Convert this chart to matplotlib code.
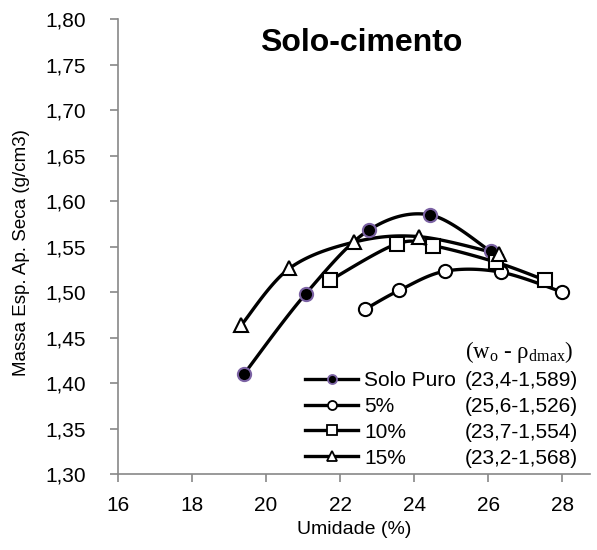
import matplotlib
matplotlib.use("Agg")
import matplotlib.pyplot as plt
import numpy as np
from matplotlib.lines import Line2D
from matplotlib.ticker import FuncFormatter

# valores: umidade (%) e massa específica seca (g/cm3)
puro_x = [19.41, 21.07, 22.77, 24.42, 26.06]
puro_y = [1.410, 1.498, 1.568, 1.585, 1.545]
c5_x = [22.67, 23.60, 24.83, 26.33, 28.00]
c5_y = [1.481, 1.502, 1.523, 1.522, 1.500]
c10_x = [21.73, 23.53, 24.51, 26.20, 27.54]
c10_y = [1.513, 1.553, 1.551, 1.533, 1.513]
c15_x = [19.34, 20.63, 22.38, 24.13, 26.28]
c15_y = [1.464, 1.526, 1.555, 1.561, 1.542]

labels = ["Solo Puro", "5%", "10%", "15%"]
optimum = ["(23,4-1,589)", "(25,6-1,526)", "(23,7-1,554)", "(23,2-1,568)"]
x_ticks = [16, 18, 20, 22, 24, 26, 28]
y_ticks = [1.30, 1.35, 1.40, 1.45, 1.50, 1.55, 1.60, 1.65, 1.70, 1.75, 1.80]

plt.rcParams["font.family"] = ["Liberation Sans", "DejaVu Sans"]
plt.rcParams["mathtext.fontset"] = "custom"
plt.rcParams["mathtext.rm"] = "Liberation Serif"
plt.rcParams["mathtext.it"] = "Liberation Serif:italic"

AXIS_GREY = "#888888"
PURPLE = "#7b62a3"


def smooth(ax, xs, ys, n=30):
    """Curva suavizada (estilo Excel) em coordenadas de tela."""
    pts = ax.transData.transform(np.column_stack([xs, ys]))
    p = np.vstack([pts[0], pts, pts[-1]])
    out = []
    t = np.linspace(0, 1, n)[:, None]
    for i in range(1, len(p) - 2):
        p0, p3 = p[i], p[i + 1]
        p1 = p0 + (p[i + 1] - p[i - 1]) / 6
        p2 = p3 - (p[i + 2] - p[i]) / 6
        seg = ((1 - t) ** 3) * p0 + 3 * ((1 - t) ** 2) * t * p1 + 3 * (1 - t) * t ** 2 * p2 + t ** 3 * p3
        out.append(seg)
    curve = ax.transData.inverted().transform(np.vstack(out))
    return curve[:, 0], curve[:, 1]


fig = plt.figure(figsize=(5.97, 5.5), dpi=100)
ax = fig.add_axes([0.1972, 0.1382, 0.7908, 0.8267])
ax.set_xlim(16, 28.74)
ax.set_ylim(1.30, 1.80)

series = [
    (puro_x, puro_y, dict(marker="o", mfc="black", mec=PURPLE)),
    (c5_x, c5_y, dict(marker="o", mfc="white", mec="black")),
    (c10_x, c10_y, dict(marker="s", mfc="white", mec="black")),
    (c15_x, c15_y, dict(marker="^", mfc="white", mec="black")),
]

handles = []
for xs, ys, style in series:
    sx, sy = smooth(ax, xs, ys)
    ax.plot(sx, sy, color="black", lw=2.4, zorder=2)
    ax.plot(xs, ys, ls="none", ms=9.5, mew=1.5, zorder=3, **style)
    handles.append(Line2D([], [], color="black", lw=2.4, ms=6.5, mew=1.3, **style))

ax.set_xticks(x_ticks)
ax.set_yticks(y_ticks)
ax.yaxis.set_major_formatter(FuncFormatter(lambda v, _: f"{v:.2f}".replace(".", ",")))
ax.tick_params(axis="both", labelsize=15, color=AXIS_GREY, length=6, width=1.2)
ax.tick_params(axis="y", pad=17)
ax.tick_params(axis="x", pad=10)
for side in ("top", "right"):
    ax.spines[side].set_visible(False)
for side in ("left", "bottom"):
    ax.spines[side].set_color(AXIS_GREY)
    ax.spines[side].set_linewidth(1.2)

ax.set_xlabel("Umidade (%)", fontsize=14, labelpad=4)
fig.text(22 / 597, 1 - 253 / 550, "Massa Esp. Ap. Seca (g/cm3)", rotation=90,
         fontsize=13.5, ha="center", va="center")
fig.text(361 / 597, 1 - 43 / 550, "Solo-cimento", fontsize=23, fontweight="bold",
         ha="center", va="center")

leg = ax.legend(handles, labels, loc="upper left", bbox_to_anchor=(0.3966, 0.2265),
                frameon=False, fontsize=15, handlelength=2.55, handletextpad=0.3,
                labelspacing=0.33, borderpad=0, borderaxespad=0)

fig.canvas.draw()
renderer = fig.canvas.get_renderer()
H = fig.bbox.height
for txt, val in zip(leg.get_texts(), optimum):
    bb = txt.get_window_extent(renderer)
    fig.text(465 / 597, (bb.y0 + bb.y1) / 2 / H, val, fontsize=15, ha="left", va="center")
fig.text(465 / 597, 1 - 352 / 550, r"(w$_\mathrm{o}$ - ρ$_\mathrm{dmax}$)", fontsize=16.5,
         family="Liberation Serif", ha="left", va="center")

fig.savefig("out.png", dpi=100)
